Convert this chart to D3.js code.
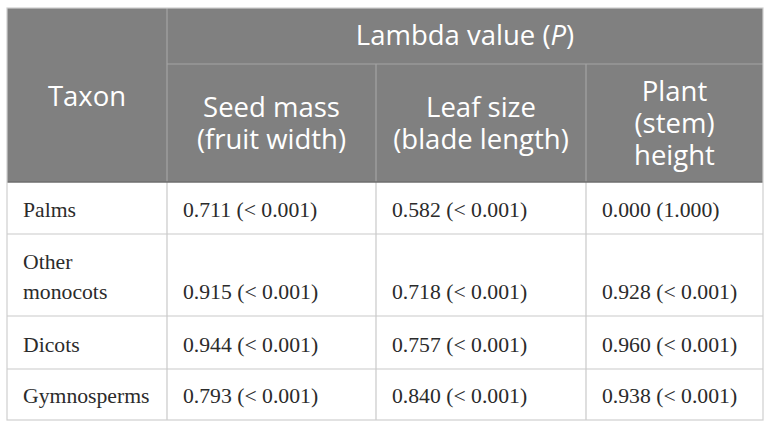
<!DOCTYPE html>
<html>
<head>
<meta charset="utf-8">
<script src="https://cdn.jsdelivr.net/npm/d3@7"></script>
<style>
  body { margin: 0; background: #fff; }
</style>
</head>
<body>
<svg id="table" width="772" height="429"></svg>
<script>
// table contents
var groupTitle = 'Lambda value (';
var traits = [
  ['Seed mass', '(fruit width)'],
  ['Leaf size', '(blade length)'],
  ['Plant', '(stem)', 'height']
];
var taxa = [['Palms'], ['Other', 'monocots'], ['Dicots'], ['Gymnosperms']];
var seedMass = ['0.711 (< 0.001)', '0.915 (< 0.001)', '0.944 (< 0.001)', '0.793 (< 0.001)'];
var leafSize = ['0.582 (< 0.001)', '0.718 (< 0.001)', '0.757 (< 0.001)', '0.840 (< 0.001)'];
var plantHeight = ['0.000 (1.000)', '0.928 (< 0.001)', '0.960 (< 0.001)', '0.938 (< 0.001)'];

var headFont = '"Open Sans", "Noto Sans", sans-serif';
var bodyFont = '"Liberation Serif", "Times New Roman", "DejaVu Serif", serif';

var svg = d3.select('#table');

// column and row edges
var colX = d3.scaleOrdinal().domain([0, 1, 2, 3, 4]).range([7, 167, 376, 586, 763]);
var rowY = d3.scaleOrdinal().domain([0, 1, 2, 3, 4, 5, 6]).range([8, 64, 182, 234, 316, 369, 420]);
var x0 = colX(0), x1 = colX(4), y0 = rowY(0), y1 = rowY(6);

// header background
svg.append('rect')
  .attr('x', x0).attr('y', y0)
  .attr('width', x1 - x0).attr('height', rowY(2) - y0)
  .attr('fill', '#808080');

// header lines
var hLine = '#a3a3a3';
svg.append('line').attr('x1', colX(1)).attr('x2', x1).attr('y1', rowY(1)).attr('y2', rowY(1))
  .attr('stroke', hLine).attr('stroke-width', 1.2);
svg.append('line').attr('x1', colX(1)).attr('x2', colX(1)).attr('y1', y0).attr('y2', rowY(2))
  .attr('stroke', hLine).attr('stroke-width', 1.2);
[2, 3].forEach(function(c) {
  svg.append('line').attr('x1', colX(c)).attr('x2', colX(c)).attr('y1', rowY(1)).attr('y2', rowY(2))
    .attr('stroke', hLine).attr('stroke-width', 1.2);
});

// body lines
var bLine = '#c9c9c9';
[1, 2, 3].forEach(function(c) {
  svg.append('line').attr('x1', colX(c)).attr('x2', colX(c)).attr('y1', rowY(2)).attr('y2', y1)
    .attr('stroke', bLine).attr('stroke-width', 1.2);
});
[3, 4, 5].forEach(function(r) {
  svg.append('line').attr('x1', x0).attr('x2', x1).attr('y1', rowY(r)).attr('y2', rowY(r))
    .attr('stroke', bLine).attr('stroke-width', 1.2);
});
svg.append('line').attr('x1', x0).attr('x2', x1).attr('y1', rowY(2)).attr('y2', rowY(2))
  .attr('stroke', '#6e6e6e').attr('stroke-width', 1.5);

// outer border
svg.append('rect')
  .attr('x', x0).attr('y', y0)
  .attr('width', x1 - x0).attr('height', y1 - y0)
  .attr('fill', 'none').attr('stroke', '#cfcfcf').attr('stroke-width', 1.2);

// header text
var hSize = 27.5, hLead = 32;
var title = svg.append('text')
  .attr('font-family', headFont).attr('fill', '#fff')
  .attr('x', (colX(1) + x1) / 2).attr('y', 45)
  .attr('text-anchor', 'middle').attr('font-size', hSize);
title.append('tspan').text(groupTitle);
title.append('tspan').attr('font-style', 'italic').text('P');
title.append('tspan').text(')');

svg.append('text')
  .attr('font-family', headFont).attr('fill', '#fff')
  .attr('x', (x0 + colX(1)) / 2).attr('y', 106)
  .attr('text-anchor', 'middle').attr('font-size', hSize)
  .text('Taxon');

traits.forEach(function(lines, i) {
  var cx = (colX(i + 1) + colX(i + 2)) / 2;
  var mid = (rowY(1) + rowY(2)) / 2;
  var yTop = mid + 10 - (lines.length - 1) * hLead / 2;
  var t = svg.append('text')
    .attr('font-family', headFont).attr('fill', '#fff')
    .attr('text-anchor', 'middle').attr('font-size', hSize);
  lines.forEach(function(s, k) {
    t.append('tspan').attr('x', cx).attr('y', yTop + k * hLead).text(s);
  });
});

// body text
var bSize = 21.7, bLead = 30, pad = 16;
var columns = [seedMass, leafSize, plantHeight];
taxa.forEach(function(lines, r) {
  var yb = rowY(r + 3) - 17;
  var t = svg.append('text')
    .attr('font-family', bodyFont).attr('fill', '#2b2b2b').attr('font-size', bSize);
  lines.forEach(function(s, k) {
    t.append('tspan').attr('x', x0 + pad)
      .attr('y', yb - (lines.length - 1 - k) * bLead).text(s);
  });
  columns.forEach(function(col, c) {
    svg.append('text')
      .attr('font-family', bodyFont).attr('fill', '#2b2b2b').attr('font-size', bSize)
      .attr('x', colX(c + 1) + pad).attr('y', yb)
      .text(col[r]);
  });
});
</script>
</body>
</html>
